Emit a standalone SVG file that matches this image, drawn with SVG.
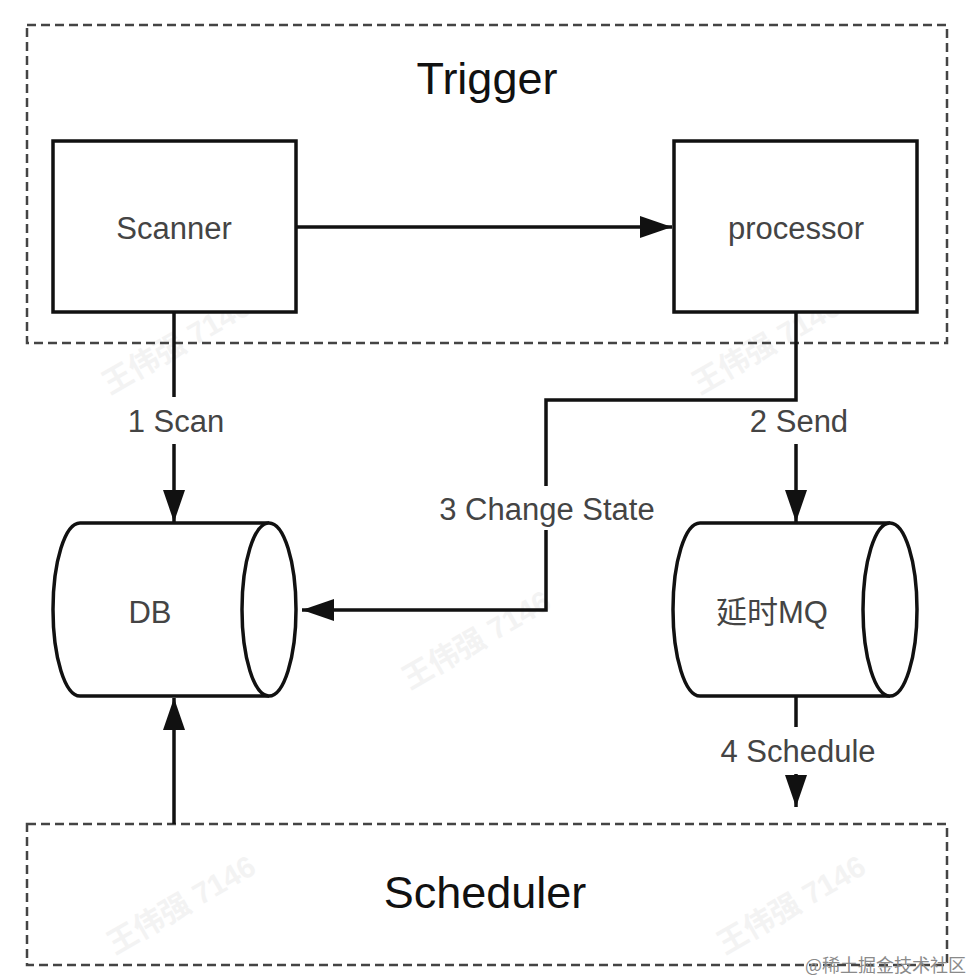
<svg xmlns="http://www.w3.org/2000/svg" width="972" height="978" viewBox="0 0 972 978">
<style>
.bg{fill:#ffffff}
.group{fill:none;stroke:#444;stroke-width:2.5;stroke-dasharray:9 5}
.box{fill:#ffffff;stroke:#111;stroke-width:3.5}
.cyl{fill:#ffffff;stroke:#111;stroke-width:3.5}
.edge{fill:none;stroke:#111;stroke-width:3.5}
.title{font-family:"Liberation Sans",Arial,sans-serif;font-size:45px;fill:#111;text-anchor:middle}
.lbl{font-family:"Liberation Sans","Noto Sans CJK SC",Arial,sans-serif;font-size:31px;fill:#444;text-anchor:middle}
.wm{font-family:"Liberation Sans","Noto Sans CJK SC",sans-serif;font-size:30px;font-weight:bold;fill:#f3f3f3}
.site{font-family:"Noto Sans CJK SC","Liberation Sans",sans-serif;font-size:18px;fill:#8a8a8a}
</style>
<defs>
<marker id="arr" markerUnits="userSpaceOnUse" viewBox="0 0 32 22" markerWidth="32" markerHeight="22" refX="32" refY="11" orient="auto">
<path d="M0,0 L32,11 L0,22 Z" fill="#111"/>
</marker>
</defs>
<rect class="bg" x="0" y="0" width="972" height="978"/>
<g id="watermarks">
<text class="wm" transform="translate(110,395) rotate(-30)">王伟强 7146</text>
<text class="wm" transform="translate(700,395) rotate(-30)">王伟强 7146</text>
<text class="wm" transform="translate(410,690) rotate(-30)">王伟强 7146</text>
<text class="wm" transform="translate(115,955) rotate(-30)">王伟强 7146</text>
<text class="wm" transform="translate(725,955) rotate(-30)">王伟强 7146</text>
</g>
<g id="trigger">
<rect class="group" x="27" y="25" width="920" height="318"/>
<text class="title" x="487" y="94">Trigger</text>
</g>
<g id="scheduler">
<rect class="group" x="27" y="824" width="920" height="141"/>
<text class="title" x="485" y="908">Scheduler</text>
</g>
<g id="scanner">
<rect class="box" x="53" y="141" width="243" height="171"/>
<text class="lbl" x="174" y="239">Scanner</text>
</g>
<g id="processor">
<rect class="box" x="674" y="141" width="243" height="171"/>
<text class="lbl" x="796" y="239">processor</text>
</g>
<g id="db">
<path class="cyl" d="M80,523 L269,523 A27,86.5 0 0 1 269,696 L80,696 A27,86.5 0 0 1 80,523 Z"/>
<path class="cyl" d="M269,523 A27,86.5 0 0 0 269,696" fill="none"/>
<text class="lbl" x="150" y="623">DB</text>
</g>
<g id="mq">
<path class="cyl" d="M700,523 L890,523 A27,86.5 0 0 1 890,696 L700,696 A27,86.5 0 0 1 700,523 Z"/>
<path class="cyl" d="M890,523 A27,86.5 0 0 0 890,696" fill="none"/>
<text class="lbl" x="772" y="623">延时MQ</text>
</g>
<g id="connectors">
<path class="edge" d="M297,227 H672" marker-end="url(#arr)"/>
<path class="edge" d="M174,312 V397"/>
<path class="edge" d="M174,444 V522" marker-end="url(#arr)"/>
<text class="lbl" x="176" y="432">1 Scan</text>
<path class="edge" d="M796,312 V400 H546 V486"/>
<path class="edge" d="M546,530 V610 H302" marker-end="url(#arr)"/>
<text class="lbl" x="547" y="520">3 Change State</text>
<path class="edge" d="M796,444 V522" marker-end="url(#arr)"/>
<text class="lbl" x="799" y="432">2 Send</text>
<path class="edge" d="M796,697 V727"/>
<path class="edge" d="M796,774 V807" marker-end="url(#arr)"/>
<text class="lbl" x="798" y="762">4 Schedule</text>
<path class="edge" d="M174,824 V698" marker-end="url(#arr)"/>
</g>
<text class="site" x="966" y="972" text-anchor="end">@稀土掘金技术社区</text>
</svg>
